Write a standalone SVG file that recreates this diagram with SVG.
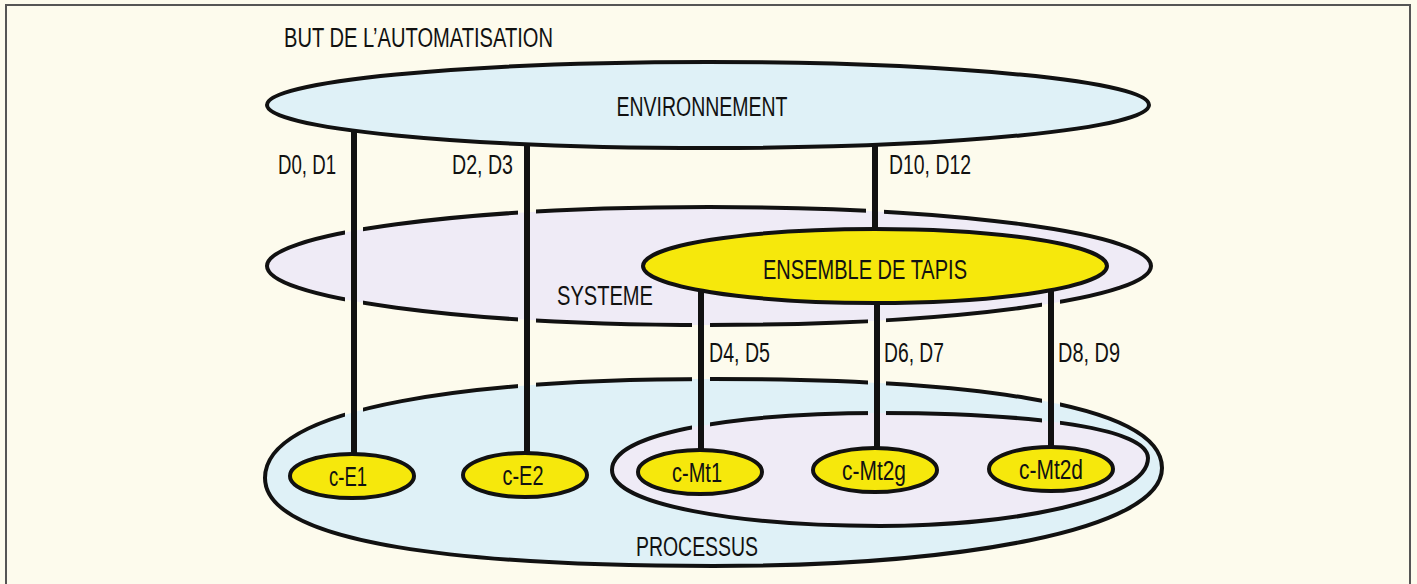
<svg xmlns="http://www.w3.org/2000/svg" width="1417" height="584" viewBox="0 0 1417 584">
<style>
text{font-family:"Liberation Sans","Arial",sans-serif;font-size:27px;fill:#111;}
.ol{stroke:#111;stroke-width:4;}
.blue{fill:#dff1f7;}
.lav{fill:#efebf6;}
.yel{fill:#f6e80c;}
.ln{stroke:#111;stroke-width:6;fill:none;}
</style>
<defs>
<path id="proc" d="M 265 478 C 265 405, 480 379, 713 379 C 950 379, 1162 400, 1162 468 C 1162 530, 960 566, 713 566 C 470 566, 265 545, 265 478 Z"/>
<path id="inner" d="M 612 470 C 612 430, 750 413, 880 413 C 1010 413, 1148 425, 1148 458 C 1148 500, 1010 526, 880 526 C 740 526, 612 505, 612 470 Z"/>
<ellipse id="sys" cx="709" cy="266" rx="442" ry="59"/>
<mask id="gap" maskUnits="userSpaceOnUse" x="0" y="0" width="1417" height="584">
<rect x="0" y="0" width="1417" height="584" fill="white"/>
<g fill="black">
<rect x="345" y="160" width="18" height="285"/>
<rect x="518" y="160" width="18" height="285"/>
<rect x="866" y="155" width="18" height="67"/>
<rect x="692" y="308" width="18" height="137"/>
<rect x="868" y="308" width="18" height="137"/>
<rect x="1042" y="295" width="18" height="150"/>
</g>
</mask>
</defs>
<rect x="0" y="0" width="1417" height="584" fill="#fdfbed"/>
<path d="M 6 590 L 6 5 L 1410 5 L 1410 590" fill="none" stroke="#555" stroke-width="2"/>

<g id="processus">
<use href="#proc" class="blue"/>
<use href="#proc" fill="none" class="ol" mask="url(#gap)"/>
<text x="697" y="556" text-anchor="middle" textLength="122" lengthAdjust="spacingAndGlyphs">PROCESSUS</text>
</g>
<g id="ensemble-tapis-processus">
<use href="#inner" class="lav"/>
<use href="#inner" fill="none" class="ol" mask="url(#gap)"/>
</g>
<g id="systeme">
<use href="#sys" class="lav"/>
<use href="#sys" fill="none" class="ol" mask="url(#gap)"/>
<text x="605" y="305" text-anchor="middle" textLength="96" lengthAdjust="spacingAndGlyphs">SYSTEME</text>
</g>
<g id="environnement">
<ellipse cx="708" cy="105" rx="441" ry="43" class="blue ol"/>
<text x="702" y="116" text-anchor="middle" textLength="171" lengthAdjust="spacingAndGlyphs">ENVIRONNEMENT</text>
</g>
<g id="ensemble-tapis">
<ellipse cx="875" cy="266" rx="232" ry="37" class="yel ol"/>
<text x="865" y="279" text-anchor="middle" textLength="204" lengthAdjust="spacingAndGlyphs">ENSEMBLE DE TAPIS</text>
</g>
<g id="c-E1">
<ellipse cx="352" cy="476" rx="62" ry="22" class="yel ol"/>
<text x="348" y="486" text-anchor="middle" textLength="38" lengthAdjust="spacingAndGlyphs">c-E1</text>
</g>
<g id="c-E2">
<ellipse cx="525" cy="475" rx="62" ry="22" class="yel ol"/>
<text x="523" y="485" text-anchor="middle" textLength="41" lengthAdjust="spacingAndGlyphs">c-E2</text>
</g>
<g id="c-Mt1">
<ellipse cx="700" cy="472" rx="62" ry="22" class="yel ol"/>
<text x="697" y="482" text-anchor="middle" textLength="50" lengthAdjust="spacingAndGlyphs">c-Mt1</text>
</g>
<g id="c-Mt2g">
<ellipse cx="875" cy="470" rx="62" ry="22" class="yel ol"/>
<text x="874" y="480" text-anchor="middle" textLength="64" lengthAdjust="spacingAndGlyphs">c-Mt2g</text>
</g>
<g id="c-Mt2d">
<ellipse cx="1051" cy="469" rx="62" ry="22" class="yel ol"/>
<text x="1051" y="479" text-anchor="middle" textLength="64" lengthAdjust="spacingAndGlyphs">c-Mt2d</text>
</g>

<g id="connectors">
<line x1="354" y1="130" x2="354" y2="455" class="ln"/>
<line x1="527" y1="143" x2="527" y2="454" class="ln"/>
<line x1="875" y1="145" x2="875" y2="230" class="ln"/>
<line x1="701" y1="289" x2="701" y2="451" class="ln"/>
<line x1="877" y1="302" x2="877" y2="449" class="ln"/>
<line x1="1051" y1="289" x2="1051" y2="448" class="ln"/>
</g>
<g id="labels">
<text x="284" y="47" textLength="269" lengthAdjust="spacingAndGlyphs">BUT DE L’AUTOMATISATION</text>
<text x="278" y="174" textLength="58" lengthAdjust="spacingAndGlyphs">D0, D1</text>
<text x="452" y="174" textLength="61" lengthAdjust="spacingAndGlyphs">D2, D3</text>
<text x="889" y="174" textLength="82" lengthAdjust="spacingAndGlyphs">D10, D12</text>
<text x="709" y="362" textLength="61" lengthAdjust="spacingAndGlyphs">D4, D5</text>
<text x="884" y="362" textLength="60" lengthAdjust="spacingAndGlyphs">D6, D7</text>
<text x="1058" y="362" textLength="62" lengthAdjust="spacingAndGlyphs">D8, D9</text>
</g>
</svg>
